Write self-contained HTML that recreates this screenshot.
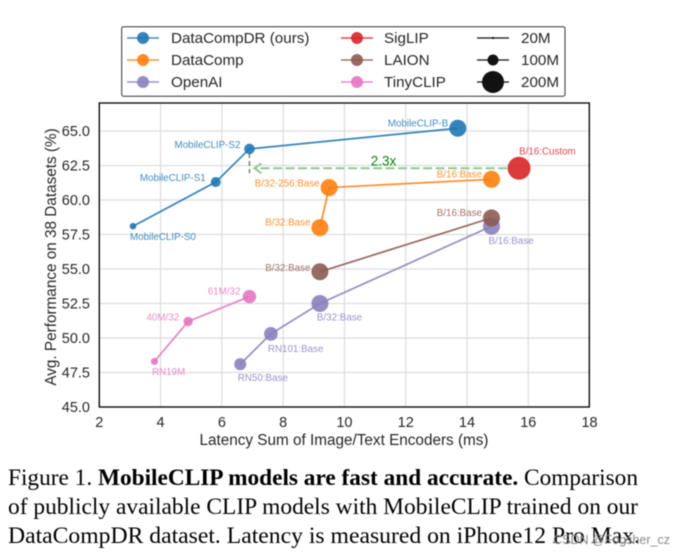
<!DOCTYPE html>
<html>
<head>
<meta charset="utf-8">
<style>
html,body{margin:0;padding:0;background:#fff;}
body{width:673px;height:553px;overflow:hidden;position:relative;}
svg{position:absolute;left:0;top:0;filter:blur(0.45px);}
text{font-family:"Liberation Sans",sans-serif;}
.cap{font-family:"Liberation Serif",serif;font-size:23.6px;fill:#000;}
</style>
</head>
<body>
<svg id="chart" width="673" height="553" viewBox="0 0 673 553" xmlns="http://www.w3.org/2000/svg">
  <text class="cap" x="8" y="485" textLength="630" lengthAdjust="spacingAndGlyphs">Figure 1. <tspan font-weight="bold">MobileCLIP models are fast and accurate.</tspan> Comparison</text>
  <text class="cap" x="8" y="514" textLength="630" lengthAdjust="spacingAndGlyphs">of publicly available CLIP models with MobileCLIP trained on our</text>
  <text class="cap" x="8" y="543" textLength="632" lengthAdjust="spacingAndGlyphs">DataCompDR dataset. Latency is measured on iPhone12 Pro Max.</text>
  <text x="670" y="544" text-anchor="end" font-size="12.5" fill="#8a8a8a">CSDN @Fogsher_cz</text>
</svg>
<script>
var xTicks = [2, 4, 6, 8, 10, 12, 14, 16, 18];
var yTicks = [45, 47.5, 50, 52.5, 55, 57.5, 60, 62.5, 65];
var yTickLabels = ['45.0', '47.5', '50.0', '52.5', '55.0', '57.5', '60.0', '62.5', '65.0'];

var blueLatency = [3.1, 5.8, 6.9, 13.7];
var blueScore = [58.1, 61.3, 63.7, 65.2];
var blueParams = [60, 91, 96, 155];
var blueNames = ['MobileCLIP-S0', 'MobileCLIP-S1', 'MobileCLIP-S2', 'MobileCLIP-B'];

var orangeLatency = [9.2, 9.5, 14.8];
var orangeScore = [58, 60.9, 61.5];
var orangeParams = [155, 155, 155];
var orangeNames = ['B/32:Base', 'B/32-256:Base', 'B/16:Base'];

var redLatency = [15.7];
var redScore = [62.3];
var redParams = [209];
var redNames = ['B/16:Custom'];

var brownLatency = [9.2, 14.8];
var brownScore = [54.8, 58.7];
var brownParams = [155, 155];
var brownNames = ['B/32:Base', 'B/16:Base'];

var purpleLatency = [6.6, 7.6, 9.2, 14.8];
var purpleScore = [48.1, 50.3, 52.5, 58.1];
var purpleParams = [110, 125, 155, 155];
var purpleNames = ['RN50:Base', 'RN101:Base', 'B/32:Base', 'B/16:Base'];

var pinkLatency = [3.8, 4.9, 6.9];
var pinkScore = [48.3, 51.2, 53];
var pinkParams = [65, 85, 122];
var pinkNames = ['RN19M', '40M/32', '61M/32'];

var legendSizes = [20, 100, 200];
var legendSizeNames = ['20M', '100M', '200M'];

var svg = document.getElementById('chart');
var NS = 'http://www.w3.org/2000/svg';
function sx(v) { return 99.3 + (v - 2) * 30.64; }
function sy(v) { return 407 - (v - 45) * 13.8; }
function sr(m) { return m * 0.055; }
function mk(tag, attrs, parent) {
  var e = document.createElementNS(NS, tag);
  for (var k in attrs) e.setAttribute(k, attrs[k]);
  (parent || svg).appendChild(e);
  return e;
}

var series = [
  {key: 'openai', color: '#8c7fbd', x: purpleLatency, y: purpleScore, m: purpleParams, n: purpleNames,
   off: [[-2.5, 17, 'start'], [-3, 18, 'start'], [-3, 17, 'start'], [-3, 18, 'start']]},
  {key: 'laion', color: '#8c5c51', x: brownLatency, y: brownScore, m: brownParams, n: brownNames,
   off: [[-9.5, -1, 'end'], [-9.5, -2, 'end']]},
  {key: 'tinyclip', color: '#e377c2', x: pinkLatency, y: pinkScore, m: pinkParams, n: pinkNames,
   off: [[-2.5, 13.5, 'start'], [-9, -1, 'end'], [-9, -2, 'end']]},
  {key: 'datacomp', color: '#ff7f0e', x: orangeLatency, y: orangeScore, m: orangeParams, n: orangeNames,
   off: [[-9.5, -2, 'end'], [-9.5, -1, 'end'], [-9.5, -2, 'end']]},
  {key: 'sigclip', color: '#d62728', x: redLatency, y: redScore, m: redParams, n: redNames,
   off: [[0, -14, 'start']]},
  {key: 'datacompdr', color: '#1f77b4', x: blueLatency, y: blueScore, m: blueParams, n: blueNames,
   off: [[-3, 14, 'start'], [-10, -1, 'end'], [-9, -1, 'end'], [-9.5, -1.5, 'end']]}
];

var plot = mk('g', {});



/* grid */
xTicks.forEach(function (t) {
  var l = mk('line', {x1: sx(t), x2: sx(t), y1: 103, y2: 407, stroke: '#dcdcdc', 'stroke-width': 1.2}, plot);
  
  
  var tl = mk('text', {x: sx(t), y: 427, 'text-anchor': 'middle', 'font-size': 14.5, fill: '#262626'}, plot);
  tl.textContent = t;
  
  
});
yTicks.forEach(function (t, i) {
  var l = mk('line', {x1: 99.3, x2: 589.5, y1: sy(t), y2: sy(t), stroke: '#dcdcdc', 'stroke-width': 1.2}, plot);
  
  
  var tl = mk('text', {x: 90, y: sy(t) + 5, 'text-anchor': 'end', 'font-size': 14.5, fill: '#262626'}, plot);
  tl.textContent = yTickLabels[i];
  
  
});

/* gap annotation */
var gapX = blueLatency[2];
var gapY = redScore[0];
var drop = mk('line', {x1: sx(gapX), x2: sx(gapX), y1: sy(blueScore[2]) + 4, y2: sy(gapY) + 5, stroke: '#7f7f7f', 'stroke-width': 1.5, 'stroke-dasharray': '5 3'}, plot);


var arrow = mk('line', {x1: sx(redLatency[0]) - 12, x2: sx(gapX) + 6, y1: sy(gapY), y2: sy(gapY), stroke: '#8fc98f', 'stroke-width': 2, 'stroke-dasharray': '9 3.5'}, plot);


var head = mk('path', {d: 'M' + (sx(gapX) + 12) + ' ' + (sy(gapY) - 5) + 'L' + (sx(gapX) + 5) + ' ' + sy(gapY) + 'L' + (sx(gapX) + 12) + ' ' + (sy(gapY) + 5), fill: 'none', stroke: '#8fc98f', 'stroke-width': 2}, plot);


var speed = mk('text', {x: 383.5, y: sy(gapY) - 3, 'text-anchor': 'middle', 'font-size': 13.5, fill: '#0a800a'}, plot);
speed.textContent = '2.3x';



/* series */
series.forEach(function (s) {
  var g = mk('g', {}, plot);
  
  
  s.x.forEach(function (v, i) {
    var c = mk('circle', {cx: sx(v), cy: sy(s.y[i]), r: sr(s.m[i]), fill: s.color, 'fill-opacity': 0.9}, g);
    
    
  });
  if (s.x.length > 1) {
    var pts = s.x.map(function (v, i) { return sx(v) + ',' + sy(s.y[i]); }).join(' ');
    var line = mk('polyline', {points: pts, fill: 'none', stroke: s.color, 'stroke-width': 1.7, 'stroke-opacity': 0.9}, g);
    
    
  }
  s.x.forEach(function (v, i) {
    var o = s.off[i];
    var t = mk('text', {x: sx(v) + o[0], y: sy(s.y[i]) + o[1], 'text-anchor': o[2], 'font-size': 9.8, fill: s.color, 'fill-opacity': 0.85}, g);
    t.textContent = s.n[i];
    
    
  });
});

/* spines */
var frame = mk('rect', {x: 99.3, y: 103, width: 490, height: 304, fill: 'none', stroke: '#000', 'stroke-width': 1.3}, plot);



var xt = mk('text', {x: 344, y: 445, 'text-anchor': 'middle', 'font-size': 15.3, fill: '#262626'}, plot);
xt.textContent = 'Latency Sum of Image/Text Encoders (ms)';


var yt = mk('text', {x: 0, y: 0, transform: 'translate(56,257) rotate(-90)', 'text-anchor': 'middle', 'font-size': 15.3, fill: '#262626'}, plot);
yt.textContent = 'Avg. Performance on 38 Datasets (%)';



/* legend */
var legend = mk('g', {});


var box = mk('rect', {x: 121.7, y: 26.7, width: 443.3, height: 69.5, rx: 2, fill: '#fff', stroke: '#333', 'stroke-width': 1}, legend);


var rows = [38, 60, 82];
var legendColumns = [
  {hx: 127, tx: 171, items: [['DataCompDR (ours)', '#1f77b4'], ['DataComp', '#ff7f0e'], ['OpenAI', '#8c7fbd']]},
  {hx: 341, tx: 384, items: [['SigLIP', '#d62728'], ['LAION', '#8c5c51'], ['TinyCLIP', '#e377c2']]}
];
legendColumns.forEach(function (col) {
  col.items.forEach(function (it, i) {
    var g = mk('g', {}, legend);
    
    
    mk('line', {x1: col.hx, x2: col.hx + 32, y1: rows[i], y2: rows[i], stroke: it[1], 'stroke-width': 1.5, 'stroke-opacity': 0.85}, g);
    mk('circle', {cx: col.hx + 16, cy: rows[i], r: 6, fill: it[1], 'fill-opacity': 0.9}, g);
    var t = mk('text', {x: col.tx, y: rows[i] + 5.2, 'font-size': 15.2, fill: '#262626'}, g);
    t.textContent = it[0];
  });
});
legendSizes.forEach(function (m, i) {
  var g = mk('g', {}, legend);
  
  
  mk('line', {x1: 477, x2: 509, y1: rows[i], y2: rows[i], stroke: '#111', 'stroke-width': 1.2}, g);
  mk('circle', {cx: 493, cy: rows[i], r: sr(m), fill: '#111'}, g);
  var t = mk('text', {x: 521, y: rows[i] + 5.2, 'font-size': 15.2, fill: '#262626'}, g);
  t.textContent = legendSizeNames[i];
});
</script>
</body>
</html>
